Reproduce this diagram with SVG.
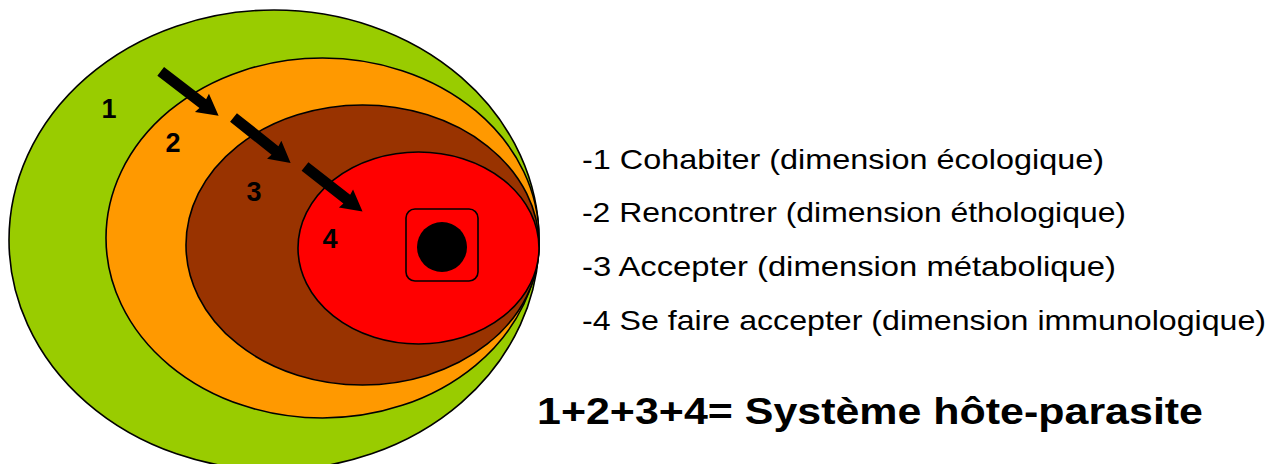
<svg xmlns="http://www.w3.org/2000/svg" xmlns:xlink="http://www.w3.org/1999/xlink" width="1282" height="464" viewBox="0 0 1282 464">
<style>
.ring{stroke:#000;stroke-width:1.6}
.num{font-family:"Liberation Sans",Arial,sans-serif;font-weight:bold;font-size:27px;fill:#000;text-anchor:middle}
.leg{font-family:"Liberation Sans",Arial,sans-serif;font-size:28px;fill:#000}
.sum{font-family:"Liberation Sans",Arial,sans-serif;font-weight:bold;font-size:37px;fill:#000}
</style>
<defs>
<polygon id="arrow" points="0,-5.5 53,-5.5 52,-11.5 73,0 52,11.5 53,5.5 0,5.5" fill="#000"/>
</defs>
<rect width="1282" height="464" fill="#fff"/>
<g id="ring1"><ellipse class="ring" cx="274" cy="240" rx="265" ry="230" fill="#99CC00"/></g>
<g id="ring2"><ellipse class="ring" cx="322.5" cy="238" rx="216.5" ry="180" fill="#FF9900"/></g>
<g id="ring3"><ellipse class="ring" cx="362.5" cy="245" rx="176.5" ry="140" fill="#993300"/></g>
<g id="ring4"><ellipse class="ring" cx="418.5" cy="248" rx="120.5" ry="96" fill="#FF0000"/></g>
<g id="host">
<rect x="406" y="209" width="72" height="72" rx="9" fill="#FF0000" stroke="#000" stroke-width="1.6"/>
<circle cx="442" cy="247" r="25" fill="#000"/>
</g>
<g id="labels">
<text class="num" x="109" y="118">1</text>
<text class="num" x="173" y="152">2</text>
<text class="num" x="254" y="201">3</text>
<text class="num" x="330" y="248">4</text>
</g>
<g id="connectors">
<use xlink:href="#arrow" transform="translate(160.7,71.3) rotate(37.5)"/>
<use xlink:href="#arrow" transform="translate(233.5,117.5) rotate(38.5)"/>
<use xlink:href="#arrow" transform="translate(305,166.5) rotate(38)"/>
</g>
<g id="legend">
<text class="leg" x="582" y="169" textLength="522" lengthAdjust="spacingAndGlyphs">-1 Cohabiter (dimension écologique)</text>
<text class="leg" x="582" y="222" textLength="544" lengthAdjust="spacingAndGlyphs">-2 Rencontrer (dimension éthologique)</text>
<text class="leg" x="582" y="276" textLength="534" lengthAdjust="spacingAndGlyphs">-3 Accepter (dimension métabolique)</text>
<text class="leg" x="582" y="330" textLength="684" lengthAdjust="spacingAndGlyphs">-4 Se faire accepter (dimension immunologique)</text>
<text class="sum" x="537" y="424" textLength="666" lengthAdjust="spacingAndGlyphs">1+2+3+4= Système hôte-parasite</text>
</g>
</svg>
